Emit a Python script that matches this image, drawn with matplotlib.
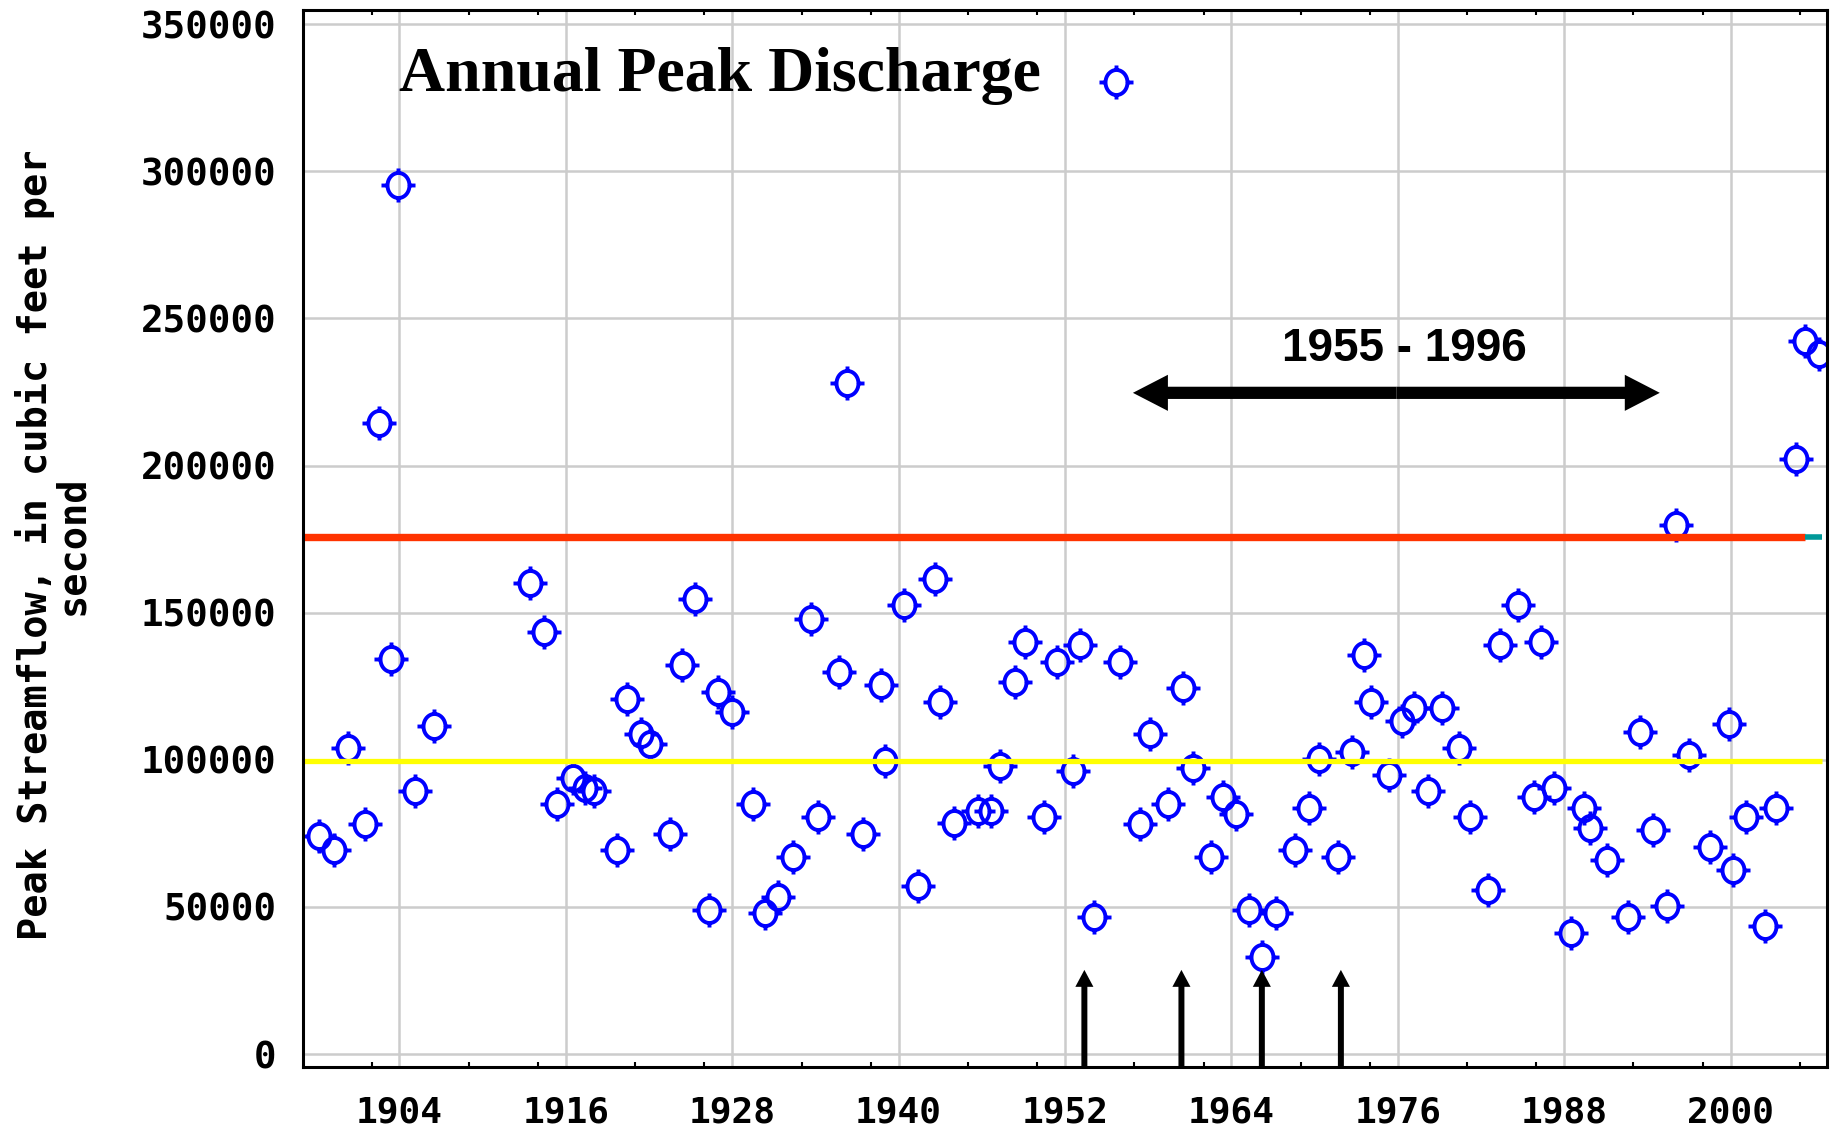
import numpy as np
import matplotlib
matplotlib.use("Agg")
import matplotlib.pyplot as plt
from matplotlib.path import Path
from matplotlib.patches import FancyArrowPatch

# ---------------- data ----------------
years = [1898.2, 1899.3, 1900.3, 1901.5, 1902.5, 1903.4, 1903.9, 1905.1, 1906.5,
         1913.4, 1914.4, 1915.4, 1916.5, 1917.4, 1918.0, 1919.7, 1920.4, 1921.4, 1922.1,
         1923.5, 1924.4, 1925.3, 1926.3, 1927.0, 1928.0, 1929.5, 1930.4, 1931.3, 1932.4,
         1933.7, 1934.2, 1935.7, 1936.3, 1937.4, 1938.7, 1939.0, 1940.4, 1941.4, 1942.6,
         1943.0, 1944.0, 1945.7, 1946.7, 1947.3, 1948.4, 1949.1, 1950.5, 1951.4, 1952.6,
         1953.1, 1954.1, 1955.7, 1956.0, 1957.4, 1958.1, 1959.4, 1960.5, 1961.2, 1962.5,
         1963.4, 1964.3, 1965.3, 1966.2, 1967.2, 1968.6, 1969.6, 1970.3, 1971.7, 1972.7,
         1973.6, 1974.1, 1975.4, 1976.3, 1977.2, 1978.2, 1979.2, 1980.4, 1981.2, 1982.5,
         1983.4, 1984.7, 1985.8, 1986.3, 1987.3, 1988.5, 1989.4, 1989.9, 1991.1, 1992.6,
         1993.5, 1994.4, 1995.4, 1996.1, 1997.0, 1998.5, 1999.9, 2000.2, 2001.1, 2002.5,
         2003.3, 2004.7, 2005.4, 2006.4]

peaks_k = [74.1, 69.3, 104.0, 78.1, 214.4, 134.3, 295.3, 89.3, 111.6,
           160.2, 143.5, 84.9, 93.7, 90.5, 89.3, 69.3, 120.8, 108.8, 105.2,
           74.9, 132.3, 154.6, 49.0, 123.2, 116.4, 84.9, 47.8, 53.4, 67.0,
           147.9, 80.5, 129.9, 228.0, 74.9, 125.5, 99.6, 152.6, 57.0, 161.4,
           119.6, 78.5, 82.5, 82.5, 98.0, 126.3, 139.9, 80.5, 133.1, 96.1,
           139.1, 46.6, 330.4, 133.1, 78.1, 108.8, 84.9, 124.4, 97.2, 67.0,
           87.3, 81.7, 49.0, 33.1, 47.8, 69.3, 83.7, 100.4, 67.0, 102.8,
           135.5, 119.6, 94.9, 113.2, 117.6, 89.3, 117.6, 104.0, 80.5, 55.8,
           139.1, 152.6, 87.3, 139.9, 90.5, 41.1, 83.7, 76.9, 65.8, 46.6,
           109.6, 76.1, 50.2, 179.7, 101.6, 70.5, 112.0, 62.6, 80.5, 43.4,
           83.7, 202.1, 242.3, 237.9]
peaks = [v * 1000 for v in peaks_k]

x_ticks = [1904, 1916, 1928, 1940, 1952, 1964, 1976, 1988, 2000]
x_minor_ticks = [1902, 1909, 1914, 1921, 1926, 1933, 1938, 1945, 1950, 1957,
                 1962, 1969, 1974, 1981, 1986, 1993, 1998, 2005]
y_ticks = [0, 50000, 100000, 150000, 200000, 250000, 300000, 350000]
x_limits = (1897.04, 2006.93)
y_limits = (-4300, 354800)

red_level = 175700
red_end = 2005.4
teal_end = 2006.6
yellow_level = 99600
yellow_end = 2006.6

title_text = "Annual Peak Discharge"
period_label = "1955 - 1996"
period_label_pos = (1976.5, 235600)
period_arrow_x = (1956.9, 1994.9)
period_arrow_y = 224700
event_years = [1953.4, 1960.4, 1966.2, 1971.9]
event_arrow_top = 28600
ylabel_text = "Peak Streamflow, in cubic feet per\nsecond"

# ---------------- figure ----------------
plt.rcParams["font.family"] = ["DejaVu Sans Mono"]
plt.rcParams["font.weight"] = "bold"

fig = plt.figure(figsize=(18.39, 11.29), dpi=100, facecolor="white")
ax = fig.add_axes([0.16471, 0.05518, 0.82855, 0.93596])
ax.set_xlim(*x_limits)
ax.set_ylim(*y_limits)

# custom marker: ring with four short spikes
t = np.linspace(0, 2 * np.pi, 49)
rx, ry, rs = 1.0, 1.14, 1.55
verts = list(zip(rx * np.cos(t), ry * np.sin(t)))
codes = [Path.MOVETO] + [Path.LINETO] * (len(t) - 1)
for (a, b), (c, d) in [((rx, 0), (rs, 0)), ((-rx, 0), (-rs, 0)),
                       ((0, ry), (0, rs)), ((0, -ry), (0, -rs))]:
    verts += [(a, b), (c, d)]
    codes += [Path.MOVETO, Path.LINETO]
ring_marker = Path(verts, codes)

ax.plot(years, peaks, linestyle="none", marker=ring_marker, markersize=24.5,
        mfc="none", mec="#0000FF", mew=2.8, zorder=3)

# reference lines
ax.hlines(red_level, x_limits[0], red_end, colors="#FF3300", lw=5.3, zorder=4)
ax.hlines(red_level, red_end, teal_end, colors="#009999", lw=4.0, zorder=4)
ax.hlines(yellow_level, x_limits[0], yellow_end, colors="#FFFF00", lw=3.8, zorder=4)

# grid & ticks
ax.set_xticks(x_ticks)
ax.set_xticks(x_minor_ticks, minor=True)
ax.set_yticks(y_ticks)
ax.set_xticklabels([str(v) for v in x_ticks])
ax.set_yticklabels([str(v) for v in y_ticks])
ax.grid(True, which="major", color="#CCCCCC", lw=1.8)
ax.set_axisbelow(True)
ax.tick_params(axis="x", which="major", length=0, pad=20.5, labelsize=26)
ax.tick_params(axis="x", which="minor", direction="in", length=3.6, width=1.5,
               top=True, bottom=True)
ax.tick_params(axis="y", which="major", length=0, pad=19, labelsize=27)
for spine in ax.spines.values():
    spine.set_linewidth(2.2)
    spine.set_color("black")
    spine.set_zorder(6)

# title inside plot
ax.text(0.0629, 0.9229, title_text, transform=ax.transAxes, fontsize=46,
        fontweight="bold", family=["Liberation Serif", "DejaVu Serif"],
        ha="left", va="baseline", zorder=7)

# period annotation
ax.text(period_label_pos[0], period_label_pos[1], period_label, fontsize=33,
        fontweight="bold", family=["Liberation Sans", "DejaVu Sans"],
        ha="center", va="baseline", zorder=7)
mid_x = 0.5 * (period_arrow_x[0] + period_arrow_x[1])
for end_x in period_arrow_x:
    ax.add_patch(FancyArrowPatch((mid_x, period_arrow_y), (end_x, period_arrow_y),
                                 arrowstyle="simple,head_length=25.2,head_width=26,tail_width=8.8",
                                 mutation_scale=1, lw=0, color="black",
                                 shrinkA=0, shrinkB=0, zorder=7))

# event arrows
for ex in event_years:
    ax.add_patch(FancyArrowPatch((ex, y_limits[0]), (ex, event_arrow_top),
                                 arrowstyle="simple,head_length=12.2,head_width=13,tail_width=4.3",
                                 mutation_scale=1, lw=0, color="black",
                                 shrinkA=0, shrinkB=0, zorder=7))

# y label
fig.text(53 / 1839, 1 - 545 / 1129, ylabel_text, rotation=90, ha="center",
         va="center", ma="center", fontsize=27.8, fontweight="bold",
         family=["DejaVu Sans Mono"], linespacing=0.95)

fig.savefig("out.png", dpi=100, facecolor="white")
